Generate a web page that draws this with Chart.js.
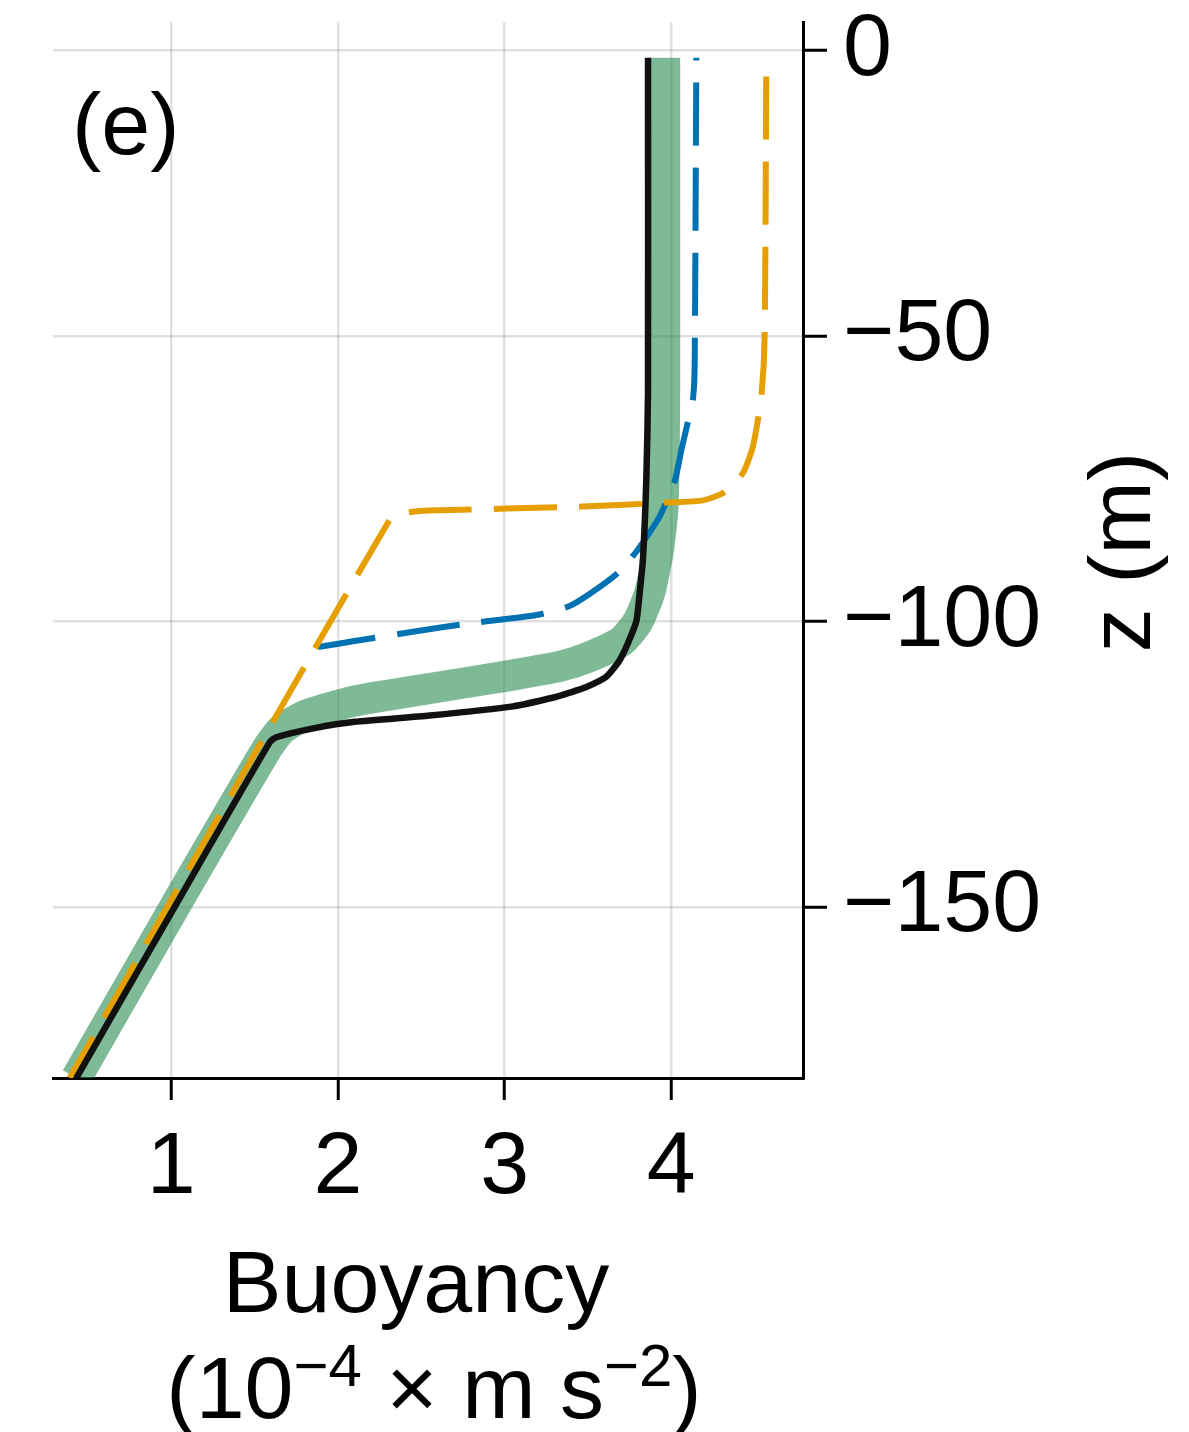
<!DOCTYPE html>
<html>
<head>
<meta charset="utf-8">
<title>Buoyancy profile (e)</title>
<script src="https://cdn.jsdelivr.net/npm/chart.js@4.4.0/dist/chart.umd.min.js"></script>
<style>
  html, body { margin: 0; padding: 0; background: #fff; }
  canvas { display: block; }
</style>
</head>
<body>
<canvas id="grafico" width="1189" height="1432"></canvas>
<script>
// ===== DATA =====
// buoyancy in 1e-4 m s^-2, depth z in m
const bTicks = [1, 2, 3, 4];
const zTicks = [0, -50, -100, -150];

// thick green reference band
const greenB = [3.96, 3.96, 3.95, 3.92, 3.87, 3.80, 3.70, 3.50, 3.33, 3.01, 2.50, 2.09, 1.80, 1.66, 1.57, 1.02, 0.43];
const greenZ = [-1.25, -60, -80, -88, -95, -100, -103.5, -106.3, -107.9, -109.6, -112, -114, -116.5, -119, -122.5, -150, -180];

// solid black
const blackB = [3.86, 3.86, 3.85, 3.83, 3.81, 3.79, 3.74, 3.69, 3.61, 3.49, 3.39, 3.30, 3.05, 2.55, 2.10, 1.86, 1.63, 1.59, 1.02, 0.43];
const blackZ = [-1.25, -60, -75, -89, -95, -100, -103.8, -106.8, -109.7, -111.5, -112.5, -113.3, -114.9, -116.5, -117.6, -118.7, -120.3, -121.2, -150, -180];

// blue dashed
const blueB = [4.15, 4.14, 4.13, 4.10, 4.06, 4.02, 3.93, 3.80, 3.68, 3.52, 3.39, 3.19, 2.78, 2.43, 2.09, 1.88];
const blueZ = [-1.25, -55, -61, -65, -70, -75.5, -81.6, -87.4, -91.5, -95, -97.3, -98.9, -100.4, -101.9, -103.5, -104.5];

// orange dashed
const orangeB = [4.57, 4.56, 4.54, 4.49, 4.43, 4.31, 4.19, 3.97, 3.47, 2.55, 2.40, 2.31, 0.39];
const orangeZ = [-1.25, -50, -60.6, -69.3, -74, -77.5, -78.8, -79.2, -79.9, -80.6, -81.0, -82.2, -180];

const FONT = "'Liberation Sans', Arial, Helvetica, sans-serif";

function pontos(bs, zs) {
    return bs.map((b, i) => ({ x: b, y: zs[i] }));
}

function menos(v) {
    return v < 0 ? '\u2212' + Math.abs(v) : String(v);
}

// no extra room for labels that stick out past the plot edges
function semPadding(s) {
    s.paddingTop = 0;
    s.paddingBottom = 0;
    s.paddingLeft = 0;
    s.paddingRight = 0;
}

// ===== TEXT LABELS (panel tag, axis titles) =====
const textos = {
    id: 'textos',
    afterDraw(chart) {
        const { ctx, chartArea } = chart;
        ctx.save();
        ctx.fillStyle = '#000';
        ctx.textBaseline = 'alphabetic';

        // panel tag
        ctx.font = '88px ' + FONT;
        ctx.textAlign = 'left';
        ctx.fillText('(e)', chartArea.left + 19, chartArea.top + 132);

        // y title, rotated, reads bottom to top
        ctx.save();
        ctx.translate(chartArea.right + 347, (chartArea.top + chartArea.bottom) / 2 + 2);
        ctx.rotate(-Math.PI / 2);
        ctx.textAlign = 'center';
        ctx.fillText('z (m)', 0, 0);
        ctx.restore();

        // x title, line 1
        ctx.textAlign = 'center';
        ctx.fillText('Buoyancy', 416, chartArea.bottom + 234);

        // x title, line 2 with superscripts
        const partes = [
            ['(10', 88, 0],
            ['\u22124', 60, 32],
            [' \u00d7 m s', 88, 0],
            ['\u22122', 60, 32],
            [')', 88, 0]
        ];
        ctx.textAlign = 'left';
        let total = 0;
        partes.forEach(p => {
            ctx.font = p[1] + 'px ' + FONT;
            total += ctx.measureText(p[0]).width;
        });
        let x = 434 - total / 2;
        const base = chartArea.bottom + 340;
        partes.forEach(p => {
            ctx.font = p[1] + 'px ' + FONT;
            ctx.fillText(p[0], x, base - p[2]);
            x += ctx.measureText(p[0]).width;
        });
        ctx.restore();
    }
};

// ===== CHART =====
const ctx = document.getElementById('grafico').getContext('2d');

// tension > 0 keeps Chart.js off its x-sorted fast path (profiles run along z)
const estiloLinha = {
    pointRadius: 0,
    tension: 0.2,
    borderCapStyle: 'butt',
    borderJoinStyle: 'round',
    clip: 0
};

window.grafico = new Chart(ctx, {
    type: 'line',
    data: {
        datasets: [
            {
                ...estiloLinha,
                label: 'black',
                data: pontos(blackB, blackZ),
                borderColor: '#111111',
                borderWidth: 6.5
            },
            {
                ...estiloLinha,
                label: 'orange',
                data: pontos(orangeB, orangeZ),
                borderColor: 'rgb(230,159,0)',
                borderWidth: 6,
                borderDash: [63, 22],
                borderDashOffset: 66
            },
            {
                ...estiloLinha,
                label: 'blue',
                data: pontos(blueB, blueZ),
                borderColor: 'rgb(0,114,178)',
                borderWidth: 6,
                borderDash: [63, 22],
                borderDashOffset: 60
            },
            {
                ...estiloLinha,
                label: 'green',
                data: pontos(greenB, greenZ),
                borderColor: 'rgba(40,140,80,0.6)',
                borderWidth: 31
            }
        ]
    },
    options: {
        responsive: false,
        animation: false,
        layout: { padding: { left: 53, top: 22, right: 0, bottom: 0 } },
        plugins: {
            legend: { display: false },
            tooltip: { enabled: false }
        },
        scales: {
            x: {
                type: 'linear',
                min: 0.29,
                max: 4.79,
                afterBuildTicks: s => { s.ticks = bTicks.map(v => ({ value: v })); },
                afterFit: s => { s.height = 354; semPadding(s); },
                grid: {
                    color: 'rgba(0,0,0,0.12)',
                    lineWidth: 2.5,
                    tickColor: '#000',
                    tickWidth: 3,
                    tickLength: 22
                },
                border: { display: true, color: '#000', width: 3 },
                ticks: {
                    color: '#000',
                    font: { family: FONT, size: 88 },
                    padding: 16,
                    autoSkip: false,
                    maxRotation: 0
                }
            },
            y: {
                type: 'linear',
                position: 'right',
                min: -180,
                max: 5,
                afterBuildTicks: s => { s.ticks = zTicks.map(v => ({ value: v })); },
                afterFit: s => { s.width = 386; semPadding(s); },
                grid: {
                    color: 'rgba(0,0,0,0.12)',
                    lineWidth: 2.5,
                    tickColor: '#000',
                    tickWidth: 3,
                    tickLength: 24
                },
                border: { display: true, color: '#000', width: 3 },
                ticks: {
                    color: '#000',
                    font: { family: FONT, size: 88 },
                    padding: 16,
                    autoSkip: false,
                    callback: v => menos(v)
                }
            }
        }
    },
    plugins: [textos]
});
</script>
</body>
</html>
